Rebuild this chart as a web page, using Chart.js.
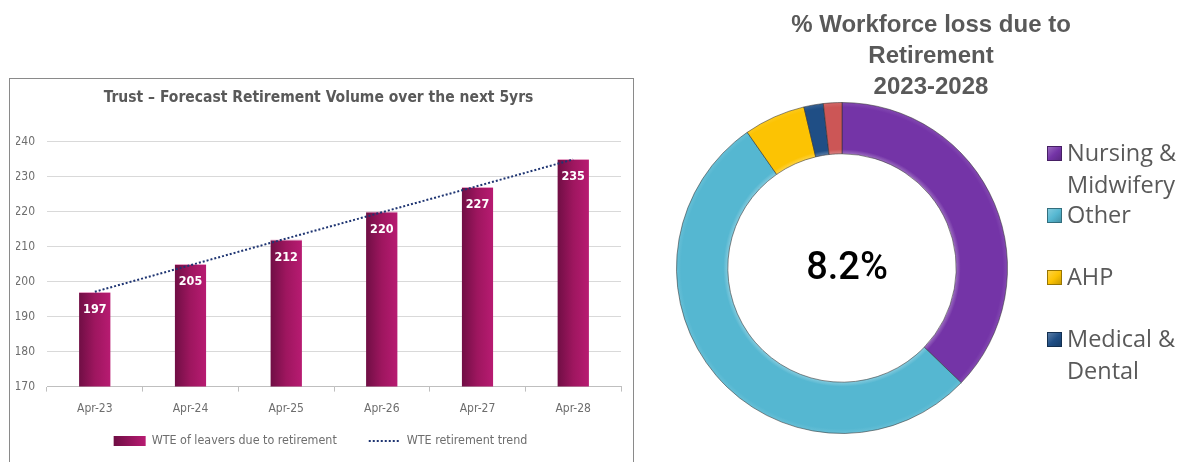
<!DOCTYPE html>
<html><head><meta charset="utf-8">
<script src="https://cdn.jsdelivr.net/npm/chart.js@4.4.0/dist/chart.umd.min.js"></script>
<style>
html,body{margin:0;padding:0;background:#fff;width:1185px;height:462px;overflow:hidden;}
#barBox{position:absolute;left:9px;top:78px;width:623px;height:400px;border:1px solid #8a8a8a;}
#barCanvas{display:block;}
#donutBox{position:absolute;left:640px;top:0;width:545px;height:462px;}
#donutCanvas{display:block;}
</style></head><body>
<div id="barBox"><canvas id="barCanvas" width="623" height="384"></canvas></div>
<div id="donutBox"><canvas id="donutCanvas" width="545" height="462"></canvas></div>
<script>
// ---- data ----
const years = ['Apr-23','Apr-24','Apr-25','Apr-26','Apr-27','Apr-28'];
const leavers = [197, 205, 212, 220, 227, 235];
const trend = [197.1, 204.7, 212.3, 219.8, 227.3, 234.9];
const yMin = 170, yMax = 240, yStep = 10;
const barTitle = 'Trust \u2013 Forecast Retirement Volume over the next 5yrs';
const barSeriesName = 'WTE of leavers due to retirement';
const trendSeriesName = 'WTE retirement trend';

const staffGroups = ['Nursing & Midwifery', 'Other', 'AHP', 'Medical & Dental', 'Estates & Ancillary'];
const lossShare = [37.2, 53.1, 6.0, 1.9, 1.8];
const legendShown = 4;
const totalLoss = '8.2%';
const donutTitle = ['% Workforce loss due to', 'Retirement', '2023-2028'];

// ---- styles ----
const NARROW = "'Liberation Sans Narrow','DejaVu Sans Condensed','Arial Narrow',sans-serif";
const segColours = ['#7434a7', '#55b7d1', '#fcc303', '#1f4e85', '#cc5656'];

function shade(hex, amt) {
  const n = parseInt(hex.slice(1), 16);
  let r = (n >> 16) & 255, g = (n >> 8) & 255, b = n & 255;
  const f = v => Math.max(0, Math.min(255, Math.round(amt >= 0 ? v + (255 - v) * amt : v * (1 + amt))));
  return 'rgb(' + f(r) + ',' + f(g) + ',' + f(b) + ')';
}

// ---- bar chart ----
function barFill(c) {
  const chart = c.chart;
  if (c.type !== 'data' || !chart.scales || !chart.scales.x) return '#a3185f';
  const x = chart.scales.x.getPixelForValue(c.dataIndex);
  if (!isFinite(x)) return '#a3185f';
  const g = chart.ctx.createLinearGradient(x - 16, 0, x + 16, 0);
  g.addColorStop(0, '#6f0e44');
  g.addColorStop(0.5, '#9e165f');
  g.addColorStop(1, '#b81b72');
  return g;
}

const barLabels = {
  id: 'barLabels',
  afterDatasetsDraw(chart) {
    const meta = chart.getDatasetMeta(0);
    const c = chart.ctx;
    c.save();
    c.font = 'bold 12.5px ' + NARROW;
    c.fillStyle = '#ffffff';
    c.textAlign = 'center';
    c.textBaseline = 'middle';
    meta.data.forEach((el, i) => c.fillText(String(chart.data.datasets[0].data[i]), el.x, el.y + 18));
    c.restore();
  }
};

const barLegend = {
  id: 'barLegend',
  afterDraw(chart) {
    const c = chart.ctx, ds = chart.data.datasets;
    c.save();
    c.font = '12.4px ' + NARROW;
    c.textBaseline = 'middle';
    const y = chart.height - 22, box = 32, gapText = 6, gapItem = 32;
    const widths = ds.map(d => box + gapText + c.measureText(d.label).width);
    const total = widths.reduce((a, b) => a + b, 0) + gapItem * (ds.length - 1);
    let x = (chart.width - total) / 2 - 1;
    ds.forEach((d, i) => {
      if (d.type === 'line') {
        c.strokeStyle = d.borderColor; c.lineWidth = 2; c.setLineDash(d.borderDash);
        c.beginPath(); c.moveTo(x, y); c.lineTo(x + box, y); c.stroke(); c.setLineDash([]);
      } else {
        const g = c.createLinearGradient(x, 0, x + box, 0);
        g.addColorStop(0, '#6f0e44'); g.addColorStop(1, '#b81b72');
        c.fillStyle = g; c.fillRect(x, y - 5, box, 10);
      }
      c.fillStyle = '#6e6e6e';
      c.fillText(d.label, x + box + gapText, y);
      x += widths[i] + gapItem;
    });
    c.restore();
  }
};

new Chart(document.getElementById('barCanvas'), {
  type: 'bar',
  data: {
    labels: years,
    datasets: [
      { type: 'bar', label: barSeriesName, data: leavers, order: 1,
        backgroundColor: barFill, borderColor: 'rgba(225,140,185,0.8)', borderWidth: {top: 1, left: 0, right: 0, bottom: 0},
        categoryPercentage: 1, barPercentage: 0.33 },
      { type: 'line', label: trendSeriesName, data: trend, order: 0,
        borderColor: '#1f3572', borderWidth: 2, borderDash: [2, 2], borderCapStyle: 'butt',
        pointRadius: 0, fill: false, tension: 0 }
    ]
  },
  options: {
    responsive: false, animation: false,
    layout: { padding: { top: 0, left: 6, right: 12, bottom: 37 } },
    plugins: {
      legend: { display: false },
      tooltip: { enabled: false },
      title: { display: true, text: barTitle, color: '#595959',
        font: { family: NARROW, size: 15.5, weight: 'bold' }, padding: { top: 10, bottom: 34 } }
    },
    scales: {
      y: { min: yMin, max: yMax,
        afterFit(scale) { scale.width = 31; },
        ticks: { stepSize: yStep, color: '#6e6e6e', font: { family: NARROW, size: 12 }, padding: 12 },
        grid: { color: '#d9d9d9', drawTicks: false }, border: { display: false } },
      x: { ticks: { color: '#6e6e6e', font: { family: NARROW, size: 12 }, padding: 10 },
        grid: { drawOnChartArea: false, tickLength: 5, color: '#bfbfbf', offset: true },
        border: { color: '#bfbfbf' } }
    }
  },
  plugins: [barLabels, barLegend]
});

// ---- doughnut chart ----
function segFill(c) {
  const base = segColours[c.dataIndex % segColours.length];
  const ca = c.chart.chartArea;
  if (c.type !== 'data' || !ca) return base;
  const cx = (ca.left + ca.right) / 2, cy = (ca.top + ca.bottom) / 2;
  const R = Math.min(ca.right - ca.left, ca.bottom - ca.top) / 2, r = R * 0.69;
  if (![cx, cy, R, r].every(isFinite) || R <= 0) return base;
  const g = c.chart.ctx.createRadialGradient(cx, cy, r, cx, cy, R);
  g.addColorStop(0, shade(base, 0.25));
  g.addColorStop(0.08, base);
  g.addColorStop(0.9, base);
  g.addColorStop(1, shade(base, 0.12));
  return g;
}

const donutTitlePlugin = {
  id: 'donutTitle',
  afterDraw(chart) {
    const c = chart.ctx;
    c.save();
    c.font = "bold 24px 'Liberation Sans', Arial, sans-serif";
    c.fillStyle = '#595959';
    c.textAlign = 'center';
    c.textBaseline = 'middle';
    donutTitle.forEach((t, i) => c.fillText(t, 291, 25 + i * 31));
    c.restore();
  }
};

const centreText = {
  id: 'centreText',
  afterDraw(chart) {
    const ca = chart.chartArea, c = chart.ctx;
    c.save();
    c.font = "500 38px Roboto, 'Liberation Sans', sans-serif";
    c.fillStyle = '#000000';
    c.textAlign = 'center';
    c.textBaseline = 'middle';
    c.fillText(totalLoss, (ca.left + ca.right) / 2 + 5, (ca.top + ca.bottom) / 2 + 1);
    c.restore();
  }
};

function wrapText(c, text, maxW) {
  const words = text.split(' '), lines = [];
  let cur = '';
  words.forEach(w => {
    const t = cur ? cur + ' ' + w : w;
    if (cur && c.measureText(t).width > maxW) { lines.push(cur); cur = w; } else cur = t;
  });
  if (cur) lines.push(cur);
  return lines;
}

const donutLegend = {
  id: 'donutLegend',
  afterDraw(chart) {
    const c = chart.ctx;
    c.save();
    c.font = "23.5px 'Open Sans', 'Noto Sans', sans-serif";
    c.textBaseline = 'middle';
    const bx = chart.chartArea.right + 39, tx = bx + 20;
    for (let i = 0; i < legendShown; i++) {
      const y = chart.chartArea.top + 52 + i * 62;
      const col = segColours[i];
      const g = c.createLinearGradient(bx, y - 8, bx + 15, y + 8);
      g.addColorStop(0, shade(col, 0.3)); g.addColorStop(0.5, col); g.addColorStop(1, shade(col, -0.25));
      c.fillStyle = g; c.fillRect(bx, y - 8, 15, 15);
      c.strokeStyle = shade(col, -0.4); c.lineWidth = 1; c.strokeRect(bx + 0.5, y - 7.5, 14, 14);
      c.fillStyle = '#595959';
      wrapText(c, chart.data.labels[i], 120).forEach((ln, k) => c.fillText(ln, tx, y + k * 32));
    }
    c.restore();
  }
};

new Chart(document.getElementById('donutCanvas'), {
  type: 'doughnut',
  data: {
    labels: staffGroups,
    datasets: [{ data: lossShare, backgroundColor: segFill, borderColor: 'rgba(50,50,50,0.55)', borderWidth: 1 }]
  },
  options: {
    responsive: false, animation: false, cutout: '69%',
    layout: { padding: { top: 102, left: 36, right: 177, bottom: 28 } },
    plugins: { legend: { display: false }, tooltip: { enabled: false }, title: { display: false } }
  },
  plugins: [donutTitlePlugin, centreText, donutLegend]
});
</script>
</body></html>
